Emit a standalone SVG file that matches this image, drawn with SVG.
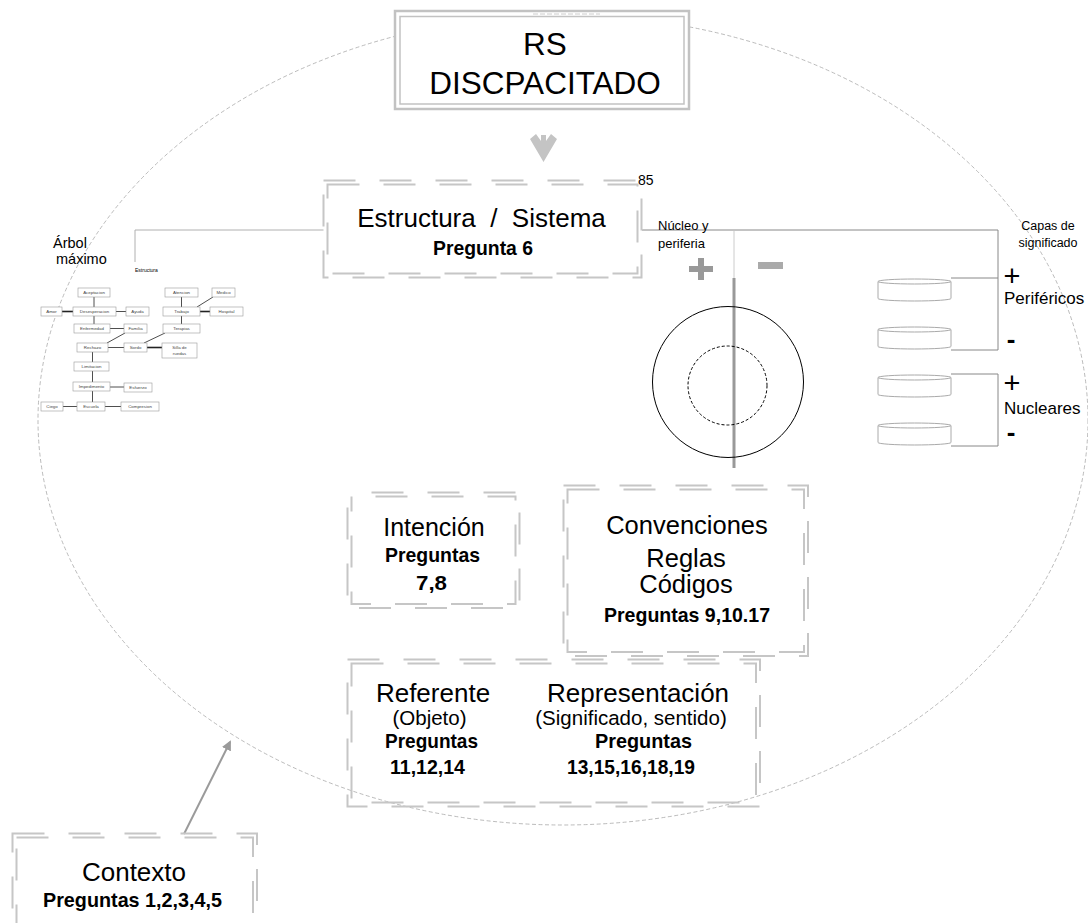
<svg xmlns="http://www.w3.org/2000/svg" width="1088" height="923" viewBox="0 0 1088 923">
<style>
.t{font-family:"Liberation Sans",Arial,sans-serif;fill:#000}
.b{font-weight:bold;font-size:21px}
.m{text-anchor:middle}
.dbl{fill:none;stroke:#c6c6c6;stroke-width:2;stroke-dasharray:32 24}
.tb rect{fill:#fff;stroke:#9a9a9a;stroke-width:0.6}
.tb text{font-family:"Liberation Sans",Arial,sans-serif;font-size:4.4px;fill:#444;text-anchor:middle}
.tl{stroke:#222;stroke-width:0.8;fill:none}
.cn{stroke:#b0b0b0;stroke-width:1;fill:none}
.br{stroke:#888;stroke-width:1;fill:none}
.cyl{fill:#fff;stroke:#aaa;stroke-width:1}
</style>
<defs>
<marker id="ah" markerWidth="10" markerHeight="10" refX="8" refY="5" orient="auto" markerUnits="userSpaceOnUse">
<path d="M0,0 L10,5 L0,10 z" fill="#9a9a9a"/>
</marker>
</defs>
<rect width="1088" height="923" fill="#fff"/>

<g id="context-ellipse">
<ellipse cx="563" cy="420" rx="525" ry="405" fill="none" stroke="#aaa" stroke-width="0.8" stroke-dasharray="4 2.5"/>
</g>

<g id="connectors">
<path class="cn" d="M135,262 V230 H323.5"/>
<path class="br" d="M642,230 H998 V350 H951 M951,278 H998 M951,374 H998 V446 H951"/>
<line x1="734" y1="231" x2="734" y2="278" stroke="#ccc" stroke-width="1"/>
<line x1="734" y1="278" x2="734" y2="468" stroke="#999" stroke-width="3"/>
<line x1="184" y1="834" x2="230" y2="742" stroke="#9a9a9a" stroke-width="2" marker-end="url(#ah)"/>
<polygon points="530,139 536,134 541,141 541,135 546,135 546,141 551,134 557,139 543.5,162" fill="#c4c4c4"/>
</g>

<g id="title">
<rect x="395" y="11" width="294" height="98" fill="#fff" stroke="#c2c2c2" stroke-width="2.5"/>
<rect x="400" y="16.5" width="284" height="87.5" fill="#fff" stroke="#c2c2c2" stroke-width="1.5"/>
<line x1="533" y1="14" x2="600" y2="14" stroke="#ccc" stroke-width="1" stroke-dasharray="5 2"/>
<text class="t m" x="545" y="55" font-size="31.5">RS</text>
<text class="t m" x="545" y="94" font-size="31.5">DISCPACITADO</text>
</g>

<g id="estructura">
<rect class="dbl" x="323.5" y="180.5" width="318" height="97"/>
<rect class="dbl" x="327.5" y="184.5" width="310" height="89"/>
<text class="t m" x="481.5" y="227" font-size="26" xml:space="preserve">Estructura  /  Sistema</text>
<text class="t b m" x="483" y="255" textLength="100" lengthAdjust="spacingAndGlyphs">Pregunta 6</text>
<text class="t" x="638" y="185" font-size="14">85</text>
</g>

<g id="arbol">
<text class="t" x="53" y="248" font-size="14.5">Árbol</text>
<text class="t" x="56" y="264" font-size="14.5">máximo</text>
<text class="t" x="135" y="272" font-size="5" fill="#444">Estructura</text>
<g class="tl">
<line x1="94" y1="297" x2="94" y2="307"/>
<line x1="94" y1="316" x2="94" y2="324"/>
<line x1="92.5" y1="352" x2="92.5" y2="362"/>
<line x1="92.5" y1="371" x2="92.5" y2="382"/>
<line x1="92.5" y1="391" x2="92.5" y2="402"/>
<line x1="62" y1="311.5" x2="73" y2="311.5" stroke-width="1.6"/>
<line x1="116" y1="311.5" x2="126" y2="311.5"/>
<line x1="110" y1="328.5" x2="124" y2="328.5"/>
<line x1="108" y1="347.5" x2="124" y2="347.5"/>
<line x1="147" y1="347.5" x2="162" y2="347.5" stroke-width="1.6"/>
<line x1="110" y1="387" x2="124" y2="387"/>
<line x1="63" y1="406.5" x2="77" y2="406.5"/>
<line x1="105" y1="406.5" x2="121" y2="406.5"/>
<line x1="200" y1="311.5" x2="210" y2="311.5" stroke-width="1.6"/>
<line x1="181.5" y1="297" x2="181.5" y2="307"/>
<line x1="181.5" y1="316" x2="181.5" y2="324"/>
<line x1="125" y1="333" x2="107" y2="343"/>
<line x1="165" y1="333" x2="144" y2="343"/>
<line x1="213" y1="297" x2="197" y2="307"/>
</g>
<g class="tb">
<rect x="78" y="288" width="32" height="9"/><text x="94" y="294.2">Aceptacion</text>
<rect x="41" y="307" width="21" height="9"/><text x="51.5" y="313.2">Amor</text>
<rect x="73" y="307" width="43" height="9"/><text x="94.5" y="313.2">Desesperacion</text>
<rect x="126" y="307" width="23" height="9"/><text x="137.5" y="313.2">Ayuda</text>
<rect x="74" y="324" width="36" height="9"/><text x="92" y="330.2">Enfermedad</text>
<rect x="124" y="324" width="23" height="9"/><text x="135.5" y="330.2">Familia</text>
<rect x="77" y="343" width="31" height="9"/><text x="92.5" y="349.2">Rechazo</text>
<rect x="124" y="343" width="23" height="9"/><text x="135.5" y="349.2">Sordo</text>
<rect x="162" y="343" width="35" height="15"/><text x="179.5" y="349">Silla de</text><text x="179.5" y="354.5">ruedas</text>
<rect x="74" y="362" width="35" height="9"/><text x="91.5" y="368.2">Limitacion</text>
<rect x="73" y="382" width="37" height="9"/><text x="91.5" y="388.2">Impedimento</text>
<rect x="124" y="383" width="28" height="9"/><text x="138" y="389.2">Esfuerzo</text>
<rect x="41" y="402" width="22" height="9"/><text x="52" y="408.2">Ciego</text>
<rect x="77" y="402" width="28" height="9"/><text x="91" y="408.2">Escuela</text>
<rect x="121" y="402" width="38" height="9"/><text x="140" y="408.2">Compresion</text>
<rect x="165" y="288" width="33" height="9"/><text x="181.5" y="294.2">Atencion</text>
<rect x="212" y="288" width="23" height="9"/><text x="223.5" y="294.2">Medico</text>
<rect x="163" y="307" width="37" height="9"/><text x="181.5" y="313.2">Trabajo</text>
<rect x="210" y="307" width="33" height="9"/><text x="226.5" y="313.2">Hospital</text>
<rect x="163" y="324" width="37" height="9"/><text x="181.5" y="330.2">Terapias</text>
</g>
</g>

<g id="nucleo">
<text class="t" x="658" y="230" font-size="13">Núcleo y</text>
<text class="t" x="658" y="248" font-size="13">periferia</text>
<rect x="689" y="266" width="24" height="6" fill="#999"/>
<rect x="698" y="258" width="6" height="22" fill="#999"/>
<rect x="758" y="262" width="25" height="7" fill="#aaa"/>
<circle cx="728" cy="382" r="75.5" fill="none" stroke="#000" stroke-width="1"/>
<circle cx="727.5" cy="385.5" r="39.5" fill="none" stroke="#000" stroke-width="1" stroke-dasharray="3 2"/>
</g>

<g id="capas">
<text class="t m" x="1048" y="230" font-size="12.5">Capas de</text>
<text class="t m" x="1048" y="247" font-size="12.5">significado</text>
<g class="cyl">
<path d="M878,281.5 V298.5 A36.5,2.5 0 0 0 951,298.5 V281.5"/><ellipse cx="914.5" cy="281.5" rx="36.5" ry="2.5"/>
<path d="M878,329.5 V346.5 A36.5,2.5 0 0 0 951,346.5 V329.5"/><ellipse cx="914.5" cy="329.5" rx="36.5" ry="2.5"/>
<path d="M878,377.5 V394.5 A36.5,2.5 0 0 0 951,394.5 V377.5"/><ellipse cx="914.5" cy="377.5" rx="36.5" ry="2.5"/>
<path d="M878,425.5 V442.5 A36.5,2.5 0 0 0 951,442.5 V425.5"/><ellipse cx="914.5" cy="425.5" rx="36.5" ry="2.5"/>
</g>
<text class="t m" x="1012" y="286" font-size="29">+</text>
<text class="t" x="1004" y="304" font-size="17">Periféricos</text>
<text class="t m" x="1011" y="348" font-size="26" font-weight="bold">-</text>
<text class="t m" x="1012" y="393" font-size="29">+</text>
<text class="t" x="1004" y="414" font-size="17">Nucleares</text>
<text class="t m" x="1011" y="441" font-size="26" font-weight="bold">-</text>
</g>

<g id="intencion">
<rect class="dbl" x="347.5" y="492.5" width="172" height="115.5" stroke-dashoffset="32"/>
<rect class="dbl" x="351.5" y="496.5" width="164" height="107.5" stroke-dashoffset="32"/>
<text class="t m" x="434" y="536" font-size="25">Intención</text>
<text class="t b m" x="432.5" y="562" textLength="95" lengthAdjust="spacingAndGlyphs">Preguntas</text>
<text class="t b m" x="431.5" y="590" textLength="31" lengthAdjust="spacingAndGlyphs">7,8</text>
</g>

<g id="convenciones">
<rect class="dbl" x="563.5" y="485.5" width="244.5" height="170.5"/>
<rect class="dbl" x="567.5" y="489.5" width="236.5" height="162.5"/>
<text class="t m" x="687" y="534" font-size="25.5">Convenciones</text>
<text class="t m" x="686" y="567" font-size="25.5">Reglas</text>
<text class="t m" x="686" y="593" font-size="25.5">Códigos</text>
<text class="t b m" x="687" y="622" textLength="166" lengthAdjust="spacingAndGlyphs">Preguntas 9,10.17</text>
</g>

<g id="referente">
<rect class="dbl" x="347.5" y="659.5" width="412.5" height="147"/>
<rect class="dbl" x="351.5" y="663.5" width="404.5" height="139"/>
<text class="t m" x="433" y="702" font-size="26">Referente</text>
<text class="t m" x="429.5" y="725" font-size="20.5">(Objeto)</text>
<text class="t b m" x="431.5" y="748" textLength="93" lengthAdjust="spacingAndGlyphs">Preguntas</text>
<text class="t b m" x="427.5" y="774" textLength="75" lengthAdjust="spacingAndGlyphs">11,12,14</text>
<text class="t m" x="638" y="702" font-size="26">Representación</text>
<text class="t m" x="631" y="725" font-size="20.5">(Significado, sentido)</text>
<text class="t b m" x="643.5" y="748" textLength="97" lengthAdjust="spacingAndGlyphs">Preguntas</text>
<text class="t b m" x="631" y="774" textLength="128" lengthAdjust="spacingAndGlyphs">13,15,16,18,19</text>
</g>

<g id="contexto">
<rect class="dbl" x="12.5" y="833.5" width="244.5" height="101"/>
<rect class="dbl" x="16.5" y="837.5" width="236.5" height="93"/>
<text class="t m" x="134" y="881" font-size="26">Contexto</text>
<text class="t b m" x="132.5" y="907" textLength="179" lengthAdjust="spacingAndGlyphs">Preguntas 1,2,3,4,5</text>
</g>
</svg>
